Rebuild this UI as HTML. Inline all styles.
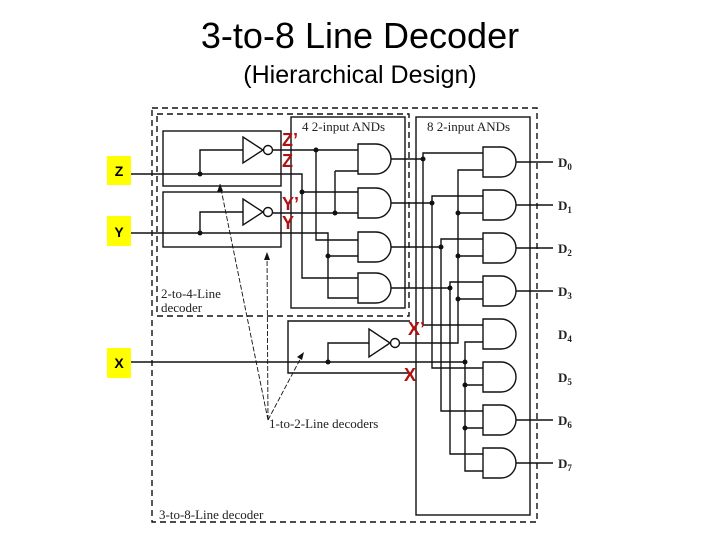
<!DOCTYPE html>
<html><head><meta charset="utf-8"><style>
html,body{margin:0;padding:0;background:#fff;width:720px;height:540px;overflow:hidden}
svg{display:block}
.t{font-family:"Liberation Serif",serif;font-size:13px;fill:#222}
.r{font-family:"Liberation Sans",sans-serif;font-size:18px;font-weight:bold;fill:#b01010}
.y{font-family:"Liberation Sans",sans-serif;font-size:14px;font-weight:bold;fill:#000}
</style></head><body>
<svg width="720" height="540" viewBox="0 0 720 540" xmlns="http://www.w3.org/2000/svg">
<text x="360" y="48" text-anchor="middle" font-family="Liberation Sans, sans-serif" font-size="36" fill="#000">3-to-8 Line Decoder</text>
<text x="360" y="83" text-anchor="middle" font-family="Liberation Sans, sans-serif" font-size="25" fill="#000">(Hierarchical Design)</text>

<g fill="none" stroke="#111" stroke-width="1.4">
<rect x="152" y="108" width="385" height="414" stroke-dasharray="6,4"/>
<rect x="157" y="114" width="252" height="202" stroke-dasharray="6,4"/>
<rect x="163" y="131" width="118" height="55"/>
<rect x="163" y="192" width="118" height="55"/>
<rect x="291" y="117" width="114" height="191"/>
<rect x="416" y="117" width="114" height="398"/>
<path d="M410 321 H288 V373 H410"/>
<path d="M243 137 L263 150 L243 163 Z"/><circle cx="268" cy="150" r="4.5"/>
<path d="M243 199 L263 212 L243 225 Z"/><circle cx="268" cy="212" r="4.5"/>
<path d="M369 329 L390 343 L369 357 Z"/><circle cx="395" cy="343" r="4.5"/>
<path d="M131 174 H302 V278 H358"/>
<path d="M200 174 V150 H243"/>
<path d="M302 192 H358"/>
<path d="M131 233 H328 V298 H358"/>
<path d="M200 233 V212 H243"/>
<path d="M328 256 H358"/>
<path d="M273 150 H358"/>
<path d="M316 150 V240 H358"/>
<path d="M273 213 H358"/>
<path d="M335 171 H358 M335 171 V213"/>
<path d="M131 362 H465"/>
<path d="M328 362 V343 H369"/>
<path d="M400 343 H458 V170 H483"/>
<path d="M358 144 H376 A15 15 0 0 1 376 174 H358 Z"/>
<path d="M358 188 H376 A15 15 0 0 1 376 218 H358 Z"/>
<path d="M358 232 H376 A15 15 0 0 1 376 262 H358 Z"/>
<path d="M358 273 H376 A15 15 0 0 1 376 303 H358 Z"/>
<path d="M391 159 H423 M391 203 H432 M391 247 H441 M391 288 H450"/>
<path d="M483 153 H423 V325 H483"/>
<path d="M483 196 H432 V368 H483"/>
<path d="M483 239 H441 V411 H483"/>
<path d="M483 282 H450 V454 H483"/>
<path d="M458 213 H483 M458 256 H483 M458 299 H483"/>
<path d="M483 342 H465 V471 H483 M465 385 H483 M465 428 H483"/>
<path d="M483 147 H501 A15 15 0 0 1 501 177 H483 Z"/>
<path d="M483 190 H501 A15 15 0 0 1 501 220 H483 Z"/>
<path d="M483 233 H501 A15 15 0 0 1 501 263 H483 Z"/>
<path d="M483 276 H501 A15 15 0 0 1 501 306 H483 Z"/>
<path d="M483 319 H501 A15 15 0 0 1 501 349 H483 Z"/>
<path d="M483 362 H501 A15 15 0 0 1 501 392 H483 Z"/>
<path d="M483 405 H501 A15 15 0 0 1 501 435 H483 Z"/>
<path d="M483 448 H501 A15 15 0 0 1 501 478 H483 Z"/>
<path d="M516 162 H553 M516 205 H553 M516 248 H553 M516 291 H553 M516 420 H553 M516 463 H553"/>
<path d="M268 420 L220 184 M268 420 L267 252 M268 420 L304 352" stroke-width="0.9" stroke-dasharray="5,2"/>
</g>
<g fill="#111">
<circle cx="200" cy="174" r="2.5"/><circle cx="200" cy="233" r="2.5"/>
<circle cx="316" cy="150" r="2.5"/><circle cx="302" cy="192" r="2.5"/>
<circle cx="335" cy="213" r="2.5"/><circle cx="328" cy="256" r="2.5"/>
<circle cx="328" cy="362" r="2.5"/>
<circle cx="423" cy="159" r="2.5"/><circle cx="432" cy="203" r="2.5"/>
<circle cx="441" cy="247" r="2.5"/><circle cx="450" cy="288" r="2.5"/>
<circle cx="458" cy="213" r="2.5"/><circle cx="458" cy="256" r="2.5"/><circle cx="458" cy="299" r="2.5"/>
<circle cx="465" cy="362" r="2.5"/><circle cx="465" cy="385" r="2.5"/><circle cx="465" cy="428" r="2.5"/>
<path d="M220 184 L217 192 L223 191 Z"/>
<path d="M267 252 L264 260 L270 260 Z"/>
<path d="M304 352 L297 357 L302 360 Z"/>
</g>
<rect x="107" y="156" width="24" height="29" fill="#ffff00"/>
<rect x="107" y="216" width="24" height="30" fill="#ffff00"/>
<rect x="107" y="348" width="24" height="30" fill="#ffff00"/>
<text class="y" x="119" y="176" text-anchor="middle">Z</text>
<text class="y" x="119" y="237" text-anchor="middle">Y</text>
<text class="y" x="119" y="368" text-anchor="middle">X</text>
<text class="r" x="282" y="146">Z’</text>
<text class="r" x="282" y="167">Z</text>
<text class="r" x="282" y="210">Y’</text>
<text class="r" x="282" y="229">Y</text>
<text class="r" x="408" y="335">X’</text>
<text class="r" x="404" y="381">X</text>
<text class="t" x="302" y="131">4 2-input ANDs</text>
<text class="t" x="427" y="131">8 2-input ANDs</text>
<text class="t" x="161" y="298">2-to-4-Line</text>
<text class="t" x="161" y="312">decoder</text>
<text class="t" x="269" y="428">1-to-2-Line decoders</text>
<text class="t" x="159" y="519">3-to-8-Line decoder</text>
<g class="t" font-weight="bold">
<text x="558" y="167">D<tspan font-size="9" dy="3">0</tspan></text>
<text x="558" y="210">D<tspan font-size="9" dy="3">1</tspan></text>
<text x="558" y="253">D<tspan font-size="9" dy="3">2</tspan></text>
<text x="558" y="296">D<tspan font-size="9" dy="3">3</tspan></text>
<text x="558" y="339">D<tspan font-size="9" dy="3">4</tspan></text>
<text x="558" y="382">D<tspan font-size="9" dy="3">5</tspan></text>
<text x="558" y="425">D<tspan font-size="9" dy="3">6</tspan></text>
<text x="558" y="468">D<tspan font-size="9" dy="3">7</tspan></text>
</g>
</svg>
</body></html>
